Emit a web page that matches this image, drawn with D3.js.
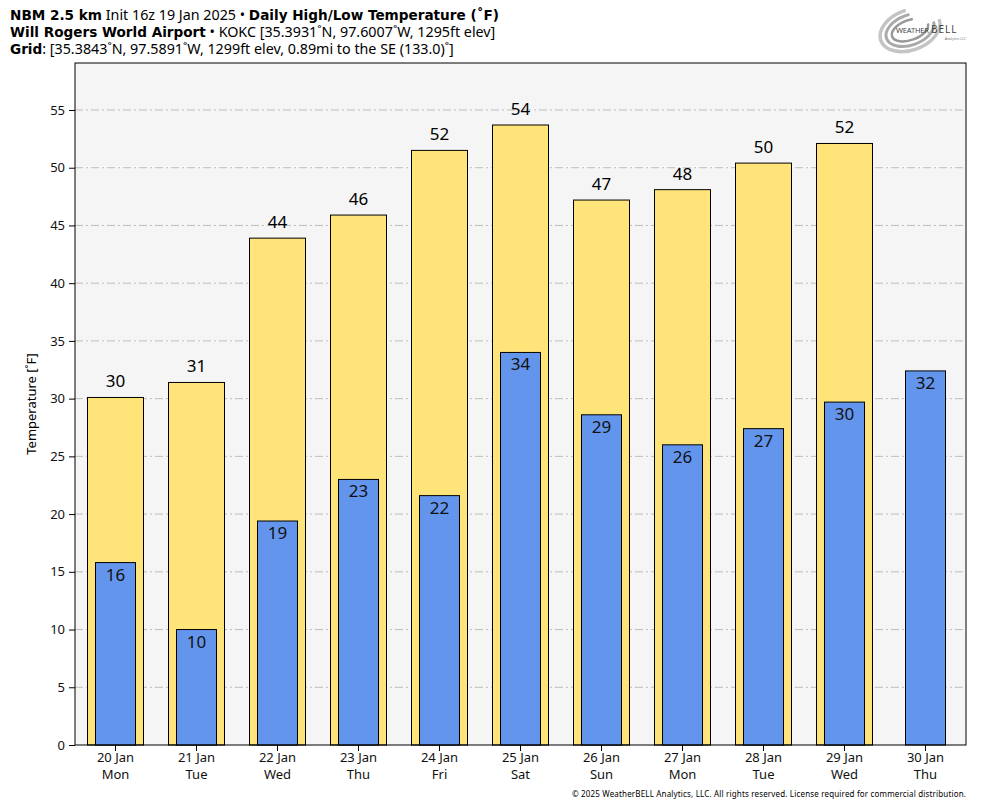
<!DOCTYPE html>
<html>
<head>
<meta charset="utf-8">
<script src="https://cdn.jsdelivr.net/npm/d3@7"></script>
<style>
	body { margin: 0; background: #fff; }
	text { font-family: "Noto Sans", "Open Sans", sans-serif; }
</style>
</head>
<body>
<div id="chart"></div>
<script>

// data
let days = ["20 Jan", "21 Jan", "22 Jan", "23 Jan", "24 Jan", "25 Jan", "26 Jan", "27 Jan", "28 Jan", "29 Jan", "30 Jan"];
let weekdays = ["Mon", "Tue", "Wed", "Thu", "Fri", "Sat", "Sun", "Mon", "Tue", "Wed", "Thu"];
let highs = [30.1, 31.4, 43.9, 45.9, 51.5, 53.7, 47.2, 48.1, 50.4, 52.1, null];
let lows = [15.8, 10.0, 19.4, 23.0, 21.6, 34.0, 28.6, 26.0, 27.4, 29.7, 32.4];
let yTicks = [0, 5, 10, 15, 20, 25, 30, 35, 40, 45, 50, 55];

let margin = {top: 63, right: 18, bottom: 63, left: 75};
let width = 984 - margin.left - margin.right;
let height = 808 - margin.top - margin.bottom;

let svg = d3.select("#chart").append("svg")
	.attr("width", 984)
	.attr("height", 808);

let g = svg.append("g")
	.attr("transform", "translate(" + margin.left + "," + margin.top + ")");

let x = d3.scaleBand()
	.domain(d3.range(days.length))
	.range([0, width]);
let y = d3.scaleLinear()
	.domain([0, 59.07])
	.range([height, 0]);

// plot background
g.append("rect")
	.attr("width", width)
	.attr("height", height)
	.attr("fill", "#f5f5f5");

// grid
g.selectAll(".grid")
	.data(yTicks.filter(d => d > 0))
	.enter()
	.append("line")
	.attr("x1", 0)
	.attr("x2", width)
	.attr("y1", d => y(d))
	.attr("y2", d => y(d))
	.attr("stroke", "#bdbdbd")
	.attr("stroke-width", 1)
	.attr("stroke-dasharray", "8,3,2,3");

let hiW = 56, loW = 40;

// high bars
let hiData = highs.map((v, i) => ({i: i, v: v})).filter(d => d.v != null);
g.selectAll(".hi")
	.data(hiData)
	.enter()
	.append("rect")
	.attr("x", d => x(d.i) + x.bandwidth() / 2 - hiW / 2)
	.attr("width", hiW)
	.attr("y", d => y(d.v))
	.attr("height", d => y(0) - y(d.v))
	.attr("fill", "#ffe47a")
	.attr("stroke", "black")
	.attr("stroke-width", 1);

g.selectAll(".hiLabel")
	.data(hiData)
	.enter()
	.append("text")
	.attr("x", d => x(d.i) + x.bandwidth() / 2)
	.attr("y", d => y(d.v) - 10)
	.attr("text-anchor", "middle")
	.attr("font-size", 17)
	.text(d => Math.round(d.v));

// low bars
let loData = lows.map((v, i) => ({i: i, v: v}));
g.selectAll(".lo")
	.data(loData)
	.enter()
	.append("rect")
	.attr("x", d => x(d.i) + x.bandwidth() / 2 - loW / 2)
	.attr("width", loW)
	.attr("y", d => y(d.v))
	.attr("height", d => y(0) - y(d.v))
	.attr("fill", "#6495ed")
	.attr("stroke", "black")
	.attr("stroke-width", 1);

g.selectAll(".loLabel")
	.data(loData)
	.enter()
	.append("text")
	.attr("x", d => x(d.i) + x.bandwidth() / 2)
	.attr("y", d => y(d.v) + 18)
	.attr("text-anchor", "middle")
	.attr("font-size", 17)
	.attr("fill", "#111")
	.text(d => Math.round(d.v));

// frame
g.append("rect")
	.attr("width", width)
	.attr("height", height)
	.attr("fill", "none")
	.attr("stroke", "black")
	.attr("stroke-width", 1);

// y axis
let yAxis = d3.axisLeft(y).tickValues(yTicks).tickSize(6).tickPadding(4);
g.append("g")
	.attr("class", "axis y-axis")
	.call(yAxis)
	.call(a => a.select(".domain").remove())
	.selectAll("text")
	.attr("font-size", 13)
	.attr("fill", "#111");

// x axis
let xAxis = d3.axisBottom(x).tickSize(6).tickPadding(3).tickFormat(() => "");
let xg = g.append("g")
	.attr("transform", "translate(0," + height + ")")
	.call(xAxis);
xg.select(".domain").remove();
xg.selectAll(".tick text").remove();
xg.selectAll(".tick").append("text")
	.attr("fill", "#111")
	.attr("font-size", 13)
	.attr("text-anchor", "middle")
	.attr("y", 17)
	.text(d => days[d]);
xg.selectAll(".tick").append("text")
	.attr("fill", "#111")
	.attr("font-size", 13)
	.attr("text-anchor", "middle")
	.attr("y", 34)
	.text(d => weekdays[d]);

// y label
svg.append("text")
	.attr("transform", "translate(36," + (margin.top + height / 2) + ") rotate(-90)")
	.attr("text-anchor", "middle")
	.attr("font-size", 13)
	.text("Temperature [˚F]");

// header
let boldFont = "DejaVu Sans, sans-serif";
let header = svg.append("g").attr("font-size", 14.3);
let l1 = header.append("text").attr("x", 10).attr("y", 20);
l1.append("tspan").attr("font-weight", "bold").attr("font-family", boldFont).attr("font-size", 13.6).text("NBM 2.5 km");
l1.append("tspan").text(" Init 16z 19 Jan 2025 • ");
l1.append("tspan").attr("font-weight", "bold").attr("font-family", boldFont).attr("font-size", 13.6).text("Daily High/Low Temperature (˚F)");
let l2 = header.append("text").attr("x", 10).attr("y", 37);
l2.append("tspan").attr("font-weight", "bold").attr("font-family", boldFont).attr("font-size", 13.6).text("Will Rogers World Airport");
l2.append("tspan").text(" • KOKC [35.3931˚N, 97.6007˚W, 1295ft elev]");
let l3 = header.append("text").attr("x", 10).attr("y", 54);
l3.append("tspan").attr("font-weight", "bold").attr("font-family", boldFont).attr("font-size", 13.6).text("Grid");
l3.append("tspan").text(": [35.3843˚N, 97.5891˚W, 1299ft elev, 0.89mi to the SE (133.0)˚]");

// logo
let logo = svg.append("g").attr("transform", "translate(910,30)");
[[31, 20, 3.5, "#c4c4c4"], [25, 15, 3, "#aaaaaa"], [19, 10, 2.5, "#999999"]].forEach(function(e) {
	logo.append("ellipse")
		.attr("rx", e[0]).attr("ry", e[1])
		.attr("fill", "none")
		.attr("stroke", e[3])
		.attr("stroke-width", e[2])
		.attr("stroke-dasharray", (e[0] * 4) + "," + (e[0] * 1.2))
		.attr("transform", "rotate(-20)");
});
logo.append("text")
	.attr("x", -14).attr("y", 3)
	.attr("font-family", "DejaVu Serif, serif")
	.attr("font-size", 7.5)
	.attr("fill", "#444")
	.attr("textLength", 33)
	.text("WEATHER");
logo.append("text")
	.attr("x", 21).attr("y", 3)
	.attr("font-family", "DejaVu Serif, serif")
	.attr("font-size", 10)
	.attr("fill", "#444")
	.attr("letter-spacing", 1)
	.text("BELL");
logo.append("text")
	.attr("x", 56).attr("y", 10)
	.attr("text-anchor", "end")
	.attr("font-size", 3.5)
	.attr("fill", "#777")
	.text("Analytics LLC");

// copyright
svg.append("text")
	.attr("x", 966)
	.attr("y", 797)
	.attr("text-anchor", "end")
	.attr("font-family", "DejaVu Sans Condensed, Liberation Sans Narrow, sans-serif")
	.attr("font-size", 8)
	.attr("textLength", 394)
	.text("© 2025 WeatherBELL Analytics, LLC. All rights reserved. License required for commercial distribution.");

</script>
</body>
</html>
